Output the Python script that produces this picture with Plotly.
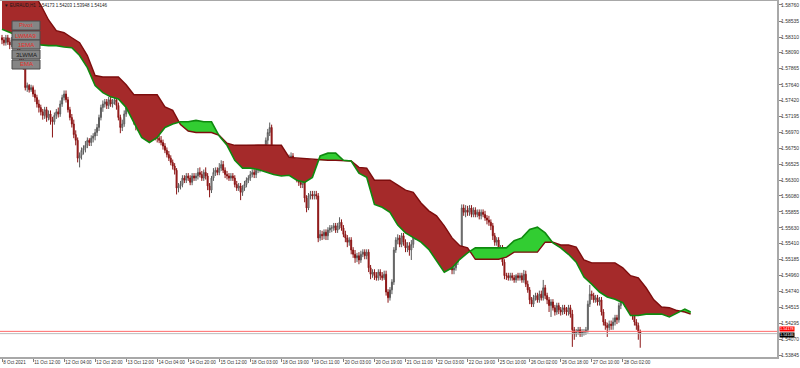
import plotly.graph_objects as go

# ---------------- data ----------------
symbol = "EURAUD,H1"
x_labels = ["8 Oct 2021", "11 Oct 12:00", "12 Oct 04:00", "12 Oct 20:00", "13 Oct 12:00",
            "14 Oct 04:00", "14 Oct 20:00", "15 Oct 12:00", "18 Oct 03:00", "18 Oct 19:00",
            "19 Oct 11:00", "20 Oct 03:00", "20 Oct 19:00", "21 Oct 11:00", "22 Oct 03:00",
            "22 Oct 19:00", "25 Oct 10:00", "26 Oct 02:00", "26 Oct 18:00", "27 Oct 10:00",
            "28 Oct 02:00"]
bars_per_label = 16
y_ticks = [1.58760, 1.58535, 1.58310, 1.58090, 1.57865, 1.57640, 1.57420, 1.57195,
           1.56970, 1.56750, 1.56525, 1.56300, 1.56080, 1.55855, 1.55630, 1.55410,
           1.55185, 1.54960, 1.54740, 1.54515, 1.54295, 1.54070, 1.53845]

first_open = 1.5830
close = [
    1.5827, 1.5823, 1.5830, 1.5824, 1.5820, 1.5827, 1.5821, 1.5833, 1.5816, 1.5802,
    1.5796, 1.5791, 1.5760, 1.5763, 1.5757, 1.5760, 1.5751, 1.5746, 1.5737, 1.5732,
    1.5726, 1.5721, 1.5729, 1.5718, 1.5723, 1.5715, 1.5712, 1.5721, 1.5726, 1.5723,
    1.5737, 1.5746, 1.5751, 1.5743, 1.5729, 1.5718, 1.5709, 1.5694, 1.5686, 1.5661,
    1.5665, 1.5672, 1.5675, 1.5679, 1.5686, 1.5683, 1.5689, 1.5692, 1.5697, 1.5704,
    1.5718, 1.5732, 1.5737, 1.5740, 1.5735, 1.5743, 1.5737, 1.5740, 1.5743, 1.5735,
    1.5718, 1.5704, 1.5709, 1.5723, 1.5732, 1.5737, 1.5743, 1.5732, 1.5712, 1.5707,
    1.5712, 1.5707, 1.5715, 1.5709, 1.5712, 1.5707, 1.5715, 1.5718, 1.5709, 1.5692,
    1.5689, 1.5686, 1.5683, 1.5678, 1.5672, 1.5666, 1.5661, 1.5655, 1.5650, 1.5644,
    1.5619, 1.5622, 1.5624, 1.5633, 1.5630, 1.5636, 1.5633, 1.5627, 1.5636, 1.5633,
    1.5636, 1.5641, 1.5638, 1.5633, 1.5641, 1.5636, 1.5622, 1.5616, 1.5633, 1.5641,
    1.5644, 1.5641, 1.5647, 1.5652, 1.5644, 1.5638, 1.5636, 1.5633, 1.5636, 1.5633,
    1.5624, 1.5619, 1.5622, 1.5613, 1.5619, 1.5624, 1.5630, 1.5633, 1.5638, 1.5641,
    1.5638, 1.5644, 1.5647, 1.5652, 1.5661, 1.5675, 1.5686, 1.5697, 1.5704, 1.5661,
    1.5652, 1.5664, 1.5658, 1.5661, 1.5655, 1.5664, 1.5658, 1.5652, 1.5661, 1.5664,
    1.5655, 1.5644, 1.5633, 1.5627, 1.5624, 1.5630, 1.5605, 1.5591, 1.5608, 1.5610,
    1.5608, 1.5610, 1.5608, 1.5549, 1.5554, 1.5552, 1.5557, 1.5552, 1.5560, 1.5563,
    1.5563, 1.5566, 1.5560, 1.5566, 1.5571, 1.5563, 1.5554, 1.5549, 1.5543, 1.5546,
    1.5532, 1.5526, 1.5521, 1.5524, 1.5518, 1.5526, 1.5529, 1.5524, 1.5529, 1.5507,
    1.5498, 1.5501, 1.5496, 1.5493, 1.5501, 1.5496, 1.5493, 1.5498, 1.5473, 1.5465,
    1.5476, 1.5487, 1.5532, 1.5546, 1.5549, 1.5540, 1.5552, 1.5543, 1.5535, 1.5538,
    1.5532, 1.5540, 1.5552, 1.5563, 1.5566, 1.5574, 1.5568, 1.5560, 1.5571, 1.5566,
    1.5568, 1.5563, 1.5552, 1.5546, 1.5540, 1.5549, 1.5538, 1.5532, 1.5529, 1.5521,
    1.5515, 1.5510, 1.5504, 1.5507, 1.5515, 1.5524, 1.5532, 1.5591, 1.5585, 1.5588,
    1.5585, 1.5591, 1.5582, 1.5588, 1.5582, 1.5585, 1.5580, 1.5585, 1.5582, 1.5577,
    1.5574, 1.5571, 1.5566, 1.5552, 1.5543, 1.5546, 1.5532, 1.5535, 1.5515, 1.5496,
    1.5496, 1.5493, 1.5496, 1.5493, 1.5490, 1.5496, 1.5493, 1.5496, 1.5490, 1.5498,
    1.5484, 1.5476, 1.5462, 1.5456, 1.5465, 1.5468, 1.5462, 1.5470, 1.5465, 1.5479,
    1.5468, 1.5462, 1.5454, 1.5459, 1.5451, 1.5445, 1.5454, 1.5448, 1.5445, 1.5451,
    1.5448, 1.5445, 1.5451, 1.5442, 1.5420, 1.5414, 1.5417, 1.5420, 1.5414, 1.5417,
    1.5417, 1.5420, 1.5456, 1.5470, 1.5468, 1.5462, 1.5465, 1.5459, 1.5462, 1.5445,
    1.5431, 1.5426, 1.5423, 1.5428, 1.5426, 1.5431, 1.5437, 1.5434, 1.5454, 1.5462,
    1.5468, 1.5456, 1.5462, 1.5448, 1.5454, 1.5440, 1.5431, 1.5426, 1.54173, 1.54146,
]
high = [
    1.5834, 1.5831, 1.5834, 1.5834, 1.5830, 1.5831, 1.5830, 1.5838, 1.5837, 1.5820,
    1.5807, 1.5802, 1.5799, 1.5767, 1.5765, 1.5764, 1.5763, 1.5757, 1.5750, 1.5743,
    1.5736, 1.5730, 1.5733, 1.5733, 1.5728, 1.5728, 1.5719, 1.5725, 1.5730, 1.5732,
    1.5742, 1.5750, 1.5756, 1.5756, 1.5747, 1.5733, 1.5723, 1.5715, 1.5700, 1.5690,
    1.5669, 1.5676, 1.5679, 1.5685, 1.5690, 1.5689, 1.5693, 1.5696, 1.5702, 1.5709,
    1.5722, 1.5736, 1.5742, 1.5744, 1.5744, 1.5747, 1.5747, 1.5744, 1.5747, 1.5747,
    1.5739, 1.5722, 1.5715, 1.5728, 1.5736, 1.5742, 1.5747, 1.5747, 1.5736, 1.5718,
    1.5716, 1.5716, 1.5719, 1.5719, 1.5716, 1.5716, 1.5719, 1.5722, 1.5722, 1.5714,
    1.5696, 1.5693, 1.5692, 1.5687, 1.5682, 1.5676, 1.5671, 1.5665, 1.5659, 1.5654,
    1.5647, 1.5626, 1.5629, 1.5637, 1.5637, 1.5640, 1.5640, 1.5637, 1.5640, 1.5640,
    1.5640, 1.5647, 1.5648, 1.5643, 1.5645, 1.5648, 1.5640, 1.5626, 1.5636, 1.5647,
    1.5648, 1.5648, 1.5654, 1.5658, 1.5657, 1.5648, 1.5643, 1.5640, 1.5640, 1.5640,
    1.5637, 1.5629, 1.5626, 1.5626, 1.5623, 1.5629, 1.5634, 1.5637, 1.5643, 1.5645,
    1.5645, 1.5648, 1.5651, 1.5658, 1.5665, 1.5679, 1.5690, 1.5702, 1.5711, 1.5708,
    1.5665, 1.5668, 1.5668, 1.5665, 1.5665, 1.5669, 1.5668, 1.5662, 1.5666, 1.5669,
    1.5668, 1.5659, 1.5648, 1.5637, 1.5631, 1.5634, 1.5634, 1.5609, 1.5612, 1.5615,
    1.5615, 1.5615, 1.5615, 1.5612, 1.5560, 1.5559, 1.5561, 1.5561, 1.5564, 1.5567,
    1.5567, 1.5570, 1.5570, 1.5570, 1.5578, 1.5575, 1.5567, 1.5559, 1.5553, 1.5550,
    1.5550, 1.5536, 1.5532, 1.5528, 1.5529, 1.5531, 1.5533, 1.5533, 1.5533, 1.5533,
    1.5511, 1.5505, 1.5505, 1.5501, 1.5505, 1.5505, 1.5501, 1.5503, 1.5503, 1.5477,
    1.5480, 1.5491, 1.5536, 1.5550, 1.5554, 1.5553, 1.5556, 1.5556, 1.5547, 1.5543,
    1.5543, 1.5546, 1.5556, 1.5567, 1.5571, 1.5585, 1.5578, 1.5573, 1.5575, 1.5577,
    1.5573, 1.5574, 1.5567, 1.5557, 1.5552, 1.5554, 1.5554, 1.5543, 1.5538, 1.5535,
    1.5525, 1.5521, 1.5515, 1.5512, 1.5519, 1.5528, 1.5536, 1.5596, 1.5596, 1.5595,
    1.5594, 1.5595, 1.5595, 1.5592, 1.5592, 1.5589, 1.5589, 1.5589, 1.5589, 1.5587,
    1.5581, 1.5580, 1.5575, 1.5570, 1.5556, 1.5550, 1.5550, 1.5539, 1.5539, 1.5519,
    1.5500, 1.5500, 1.5500, 1.5500, 1.5497, 1.5498, 1.5500, 1.5500, 1.5500, 1.5504,
    1.5503, 1.5489, 1.5480, 1.5466, 1.5469, 1.5472, 1.5472, 1.5475, 1.5475, 1.5490,
    1.5483, 1.5472, 1.5466, 1.5463, 1.5463, 1.5455, 1.5458, 1.5458, 1.5452, 1.5455,
    1.5455, 1.5452, 1.5455, 1.5455, 1.5448, 1.5424, 1.5421, 1.5424, 1.5424, 1.5421,
    1.5421, 1.5424, 1.5461, 1.5483, 1.5475, 1.5472, 1.5469, 1.5469, 1.5466, 1.5466,
    1.5449, 1.5435, 1.5430, 1.5433, 1.5433, 1.5437, 1.5441, 1.5441, 1.5458, 1.5490,
    1.5472, 1.5472, 1.5466, 1.5466, 1.5458, 1.5458, 1.5444, 1.5435, 1.5430, 1.54203,
]
low = [
    1.5821, 1.5819, 1.5819, 1.5820, 1.5814, 1.5817, 1.5816, 1.5817, 1.5810, 1.5795,
    1.5792, 1.5785, 1.5756, 1.5754, 1.5753, 1.5754, 1.5747, 1.5740, 1.5732, 1.5725,
    1.5721, 1.5715, 1.5716, 1.5712, 1.5714, 1.5708, 1.5690, 1.5708, 1.5716, 1.5718,
    1.5719, 1.5733, 1.5742, 1.5739, 1.5725, 1.5714, 1.5704, 1.5689, 1.5679, 1.5655,
    1.5648, 1.5659, 1.5666, 1.5669, 1.5675, 1.5678, 1.5678, 1.5683, 1.5686, 1.5692,
    1.5699, 1.5714, 1.5726, 1.5732, 1.5730, 1.5730, 1.5733, 1.5732, 1.5736, 1.5729,
    1.5714, 1.5696, 1.5699, 1.5705, 1.5719, 1.5728, 1.5732, 1.5728, 1.5708, 1.5700,
    1.5700, 1.5702, 1.5702, 1.5705, 1.5705, 1.5702, 1.5704, 1.5711, 1.5705, 1.5686,
    1.5683, 1.5682, 1.5679, 1.5673, 1.5668, 1.5662, 1.5657, 1.5651, 1.5645, 1.5638,
    1.5610, 1.5613, 1.5617, 1.5620, 1.5626, 1.5626, 1.5629, 1.5623, 1.5623, 1.5629,
    1.5629, 1.5631, 1.5634, 1.5629, 1.5629, 1.5631, 1.5616, 1.5606, 1.5612, 1.5629,
    1.5636, 1.5637, 1.5637, 1.5643, 1.5640, 1.5633, 1.5631, 1.5629, 1.5629, 1.5629,
    1.5620, 1.5615, 1.5615, 1.5602, 1.5608, 1.5615, 1.5620, 1.5626, 1.5629, 1.5634,
    1.5633, 1.5633, 1.5640, 1.5641, 1.5647, 1.5655, 1.5669, 1.5680, 1.5692, 1.5654,
    1.5647, 1.5647, 1.5652, 1.5654, 1.5650, 1.5651, 1.5652, 1.5647, 1.5647, 1.5655,
    1.5650, 1.5638, 1.5627, 1.5622, 1.5619, 1.5619, 1.5599, 1.5585, 1.5588, 1.5603,
    1.5603, 1.5603, 1.5603, 1.5543, 1.5545, 1.5546, 1.5547, 1.5546, 1.5546, 1.5556,
    1.5557, 1.5559, 1.5556, 1.5556, 1.5561, 1.5559, 1.5550, 1.5543, 1.5536, 1.5538,
    1.5526, 1.5521, 1.5514, 1.5515, 1.5512, 1.5514, 1.5522, 1.5519, 1.5519, 1.5501,
    1.5491, 1.5493, 1.5490, 1.5489, 1.5489, 1.5490, 1.5489, 1.5490, 1.5468, 1.5458,
    1.5461, 1.5470, 1.5483, 1.5528, 1.5540, 1.5536, 1.5536, 1.5538, 1.5529, 1.5529,
    1.5524, 1.5518, 1.5535, 1.5546, 1.5557, 1.5560, 1.5563, 1.5554, 1.5556, 1.5560,
    1.5560, 1.5559, 1.5546, 1.5540, 1.5535, 1.5535, 1.5532, 1.5526, 1.5522, 1.5514,
    1.5510, 1.5504, 1.5498, 1.5498, 1.5503, 1.5511, 1.5518, 1.5526, 1.5580, 1.5578,
    1.5580, 1.5580, 1.5578, 1.5578, 1.5578, 1.5578, 1.5575, 1.5575, 1.5578, 1.5573,
    1.5568, 1.5566, 1.5560, 1.5546, 1.5538, 1.5538, 1.5526, 1.5528, 1.5510, 1.5491,
    1.5490, 1.5489, 1.5489, 1.5489, 1.5486, 1.5486, 1.5489, 1.5489, 1.5486, 1.5486,
    1.5480, 1.5472, 1.5456, 1.5452, 1.5452, 1.5461, 1.5458, 1.5458, 1.5461, 1.5461,
    1.5463, 1.5456, 1.5445, 1.5438, 1.5447, 1.5440, 1.5441, 1.5442, 1.5440, 1.5441,
    1.5442, 1.5440, 1.5440, 1.5437, 1.5396, 1.5406, 1.5410, 1.5413, 1.5410, 1.5410,
    1.5412, 1.5413, 1.5416, 1.5452, 1.5462, 1.5458, 1.5458, 1.5454, 1.5454, 1.5440,
    1.5426, 1.5420, 1.5410, 1.5419, 1.5420, 1.5420, 1.5426, 1.5428, 1.5430, 1.5449,
    1.5458, 1.5452, 1.5449, 1.5444, 1.5444, 1.5434, 1.5426, 1.5420, 1.5406, 1.53948,
]

# Ichimoku cloud (Senkou span A / B), read every 4 bars, shifted 26 bars ahead
cloud_bar = list(range(0, 353, 4)) + [355]
span_a = [
    1.5842, 1.5838, 1.5833, 1.5827, 1.5823, 1.5820, 1.5819, 1.5819, 1.5817, 1.5816,
    1.5805, 1.5788, 1.5763, 1.5753, 1.5747, 1.5744, 1.5732, 1.5712, 1.5690, 1.5683,
    1.5690, 1.5704, 1.5709, 1.5712, 1.5712, 1.5714, 1.5712, 1.5712, 1.5692, 1.5679,
    1.5658, 1.5647, 1.5647, 1.5645, 1.5641, 1.5638, 1.5636, 1.5637, 1.5630, 1.5627,
    1.5634, 1.5664, 1.5668, 1.5668, 1.5658, 1.5657, 1.5640, 1.5634, 1.5596, 1.5592,
    1.5585, 1.5567, 1.5556, 1.5550, 1.5543, 1.5533, 1.5517, 1.5501, 1.5507, 1.5519,
    1.5528, 1.5535, 1.5535, 1.5535, 1.5536, 1.5535, 1.5545, 1.5549, 1.5561, 1.5564,
    1.5556, 1.5542, 1.5535, 1.5526, 1.5515, 1.5494, 1.5484, 1.5473, 1.5466, 1.5463,
    1.5458, 1.5440, 1.5440, 1.5442, 1.5442, 1.5442, 1.5438, 1.5444, 1.5449, 1.5445,
]
span_b = [
    1.5894, 1.5894, 1.5894, 1.5894, 1.5894, 1.5876, 1.5855, 1.5840, 1.5837, 1.5830,
    1.5823, 1.5805, 1.5777, 1.5775, 1.5775, 1.5775, 1.5764, 1.5750, 1.5750, 1.5750,
    1.5750, 1.5733, 1.5728, 1.5708, 1.5699, 1.5697, 1.5697, 1.5697, 1.5693, 1.5682,
    1.5679, 1.5679, 1.5680, 1.5680, 1.5680, 1.5680, 1.5679, 1.5662, 1.5661, 1.5661,
    1.5659, 1.5658, 1.5658, 1.5658, 1.5658, 1.5657, 1.5648, 1.5647, 1.5630, 1.5630,
    1.5630, 1.5623, 1.5616, 1.5613, 1.5598, 1.5587, 1.5580, 1.5566, 1.5549, 1.5538,
    1.5535, 1.5519, 1.5519, 1.5519, 1.5519, 1.5522, 1.5529, 1.5529, 1.5529, 1.5529,
    1.5543, 1.5543, 1.5539, 1.5539, 1.5536, 1.5518, 1.5514, 1.5514, 1.5514, 1.5514,
    1.5507, 1.5496, 1.5493, 1.5479, 1.5462, 1.5452, 1.5451, 1.5447, 1.5445, 1.5442,
]

ask = 1.54178
buttons = ["Pivot", "LWMA9", "1EMA", "3LWMA", "EMA"]
button_colors = ["#e8302a", "#e8302a", "#e8302a", "#1a1a1a", "#e8302a"]

# ---------------- layout geometry ----------------
W, H = 800, 368
ML, MR, MT, MB = 0, 23, 1, 11
PW, PH = W - ML - MR, H - MT - MB
X_RANGE = [-1.03, 399.5]
Y_RANGE = [1.53818, 1.58816]


def px_x(px):
    return (px - ML) / PW


def px_y(py):
    return (H - MB - py) / PH


FONT = "Liberation Sans, Arial, sans-serif"
RED_FILL = "#a52a2a"
GREEN_FILL = "#32cd32"
SPAN_A_LINE = "#0f8a0f"
SPAN_B_LINE = "#7d0d0d"

bars = list(range(len(close)))
opens = [first_open] + close[:-1]

fig = go.Figure()

# ---- cloud fill: split into red / green sections at crossings ----
sections = []
cx, ca, cb = [cloud_bar[0]], [span_a[0]], [span_b[0]]
sign = span_a[0] >= span_b[0]
for i in range(1, len(cloud_bar)):
    s = span_a[i] >= span_b[i]
    if s != sign:
        d0 = span_a[i - 1] - span_b[i - 1]
        d1 = span_a[i] - span_b[i]
        t = d0 / (d0 - d1) if d0 != d1 else 0.0
        xc = cloud_bar[i - 1] + t * (cloud_bar[i] - cloud_bar[i - 1])
        yc = span_a[i - 1] + t * (span_a[i] - span_a[i - 1])
        cx.append(xc); ca.append(yc); cb.append(yc)
        sections.append((sign, cx, ca, cb))
        cx, ca, cb = [xc], [yc], [yc]
        sign = s
    cx.append(cloud_bar[i]); ca.append(span_a[i]); cb.append(span_b[i])
sections.append((sign, cx, ca, cb))

for bull, sx, sa, sb in sections:
    fig.add_trace(go.Scatter(
        x=sx + sx[::-1], y=sa + sb[::-1], mode="lines", fill="toself",
        fillcolor=GREEN_FILL if bull else RED_FILL, line=dict(width=0),
        hoverinfo="skip", showlegend=False))

fig.add_trace(go.Scatter(x=cloud_bar, y=span_b, mode="lines",
                         line=dict(color=SPAN_B_LINE, width=1.4),
                         hoverinfo="skip", showlegend=False))
fig.add_trace(go.Scatter(x=cloud_bar, y=span_a, mode="lines",
                         line=dict(color=SPAN_A_LINE, width=1.6),
                         hoverinfo="skip", showlegend=False))

# ---- candles ----
fig.add_trace(go.Candlestick(
    x=bars, open=opens, high=high, low=low, close=close,
    increasing=dict(line=dict(color="#5a5a5a", width=1), fillcolor="#c8c8c8"),
    decreasing=dict(line=dict(color="#8b1414", width=1), fillcolor="#a81c1c"),
    whiskerwidth=0, hoverinfo="skip", showlegend=False))

shapes = []
annotations = []

# bid / ask lines
shapes.append(dict(type="line", xref="paper", yref="y", x0=0, x1=1, y0=ask, y1=ask,
                   line=dict(color="#ff6a6a", width=1), layer="above"))
shapes.append(dict(type="line", xref="paper", yref="y", x0=0, x1=1, y0=close[-1], y1=close[-1],
                   line=dict(color="#bcbcbc", width=1), layer="above"))

# price tags on the right axis (red ask tag sits just above the black bid tag)
annotations.append(dict(xref="paper", yref="y", x=1, y=close[-1], xshift=2, yshift=2,
                        xanchor="left", yanchor="bottom", text=f"{ask:.5f}", showarrow=False,
                        font=dict(family=FONT, size=3.8, color="#ffffff"),
                        bgcolor="#ff0000", borderpad=0))
annotations.append(dict(xref="paper", yref="y", x=1, y=close[-1], xshift=2, yshift=2,
                        xanchor="left", yanchor="top", text=f"{close[-1]:.5f}", showarrow=False,
                        font=dict(family=FONT, size=3.8, color="#ffffff"),
                        bgcolor="#000000", borderpad=0))

# header line
annotations.append(dict(
    xref="paper", yref="paper", x=px_x(2), y=px_y(5), xanchor="left", yanchor="middle",
    text=(f"\u25BC {symbol}  {opens[-1]:.5f} {high[-1]:.5f} {low[-1]:.5f} {close[-1]:.5f}"),
    showarrow=False, font=dict(family=FONT, size=4.5, color="#1a1a1a")))

# indicator buttons
btn_top = [21, 31, 40, 50, 60]
for label, col, top in zip(buttons, button_colors, btn_top):
    shapes.append(dict(type="rect", xref="paper", yref="paper",
                       x0=px_x(12), x1=px_x(40), y0=px_y(top + 9), y1=px_y(top),
                       fillcolor="#858585", line=dict(color="#4a4a4a", width=1),
                       layer="above"))
    annotations.append(dict(xref="paper", yref="paper", x=px_x(26), y=px_y(top + 4.5),
                            xanchor="center", yanchor="middle", text=label, showarrow=False,
                            font=dict(family=FONT, size=6, color=col)))

fig.update_layout(
    width=W, height=H,
    margin=dict(l=ML, r=MR, t=MT, b=MB, pad=0, autoexpand=False),
    paper_bgcolor="#ffffff", plot_bgcolor="#ffffff",
    showlegend=False,
    shapes=shapes, annotations=annotations,
    xaxis=dict(range=X_RANGE, rangeslider=dict(visible=False), showgrid=False,
               zeroline=False, showline=True, mirror=True, linecolor="#a8a8a8",
               linewidth=1.5, ticks="outside", ticklen=3, tickcolor="#808080",
               tickvals=[i * bars_per_label for i in range(len(x_labels))],
               ticktext=x_labels, ticklabelposition="outside right", tickangle=0,
               automargin=False, ticklabelstandoff=0,
               tickfont=dict(family=FONT, size=4.6, color="#333333"), fixedrange=True),
    yaxis=dict(range=Y_RANGE, side="right", showgrid=False, zeroline=False,
               showline=True, linecolor="#a8a8a8", linewidth=2, automargin=False,
               ticks="outside", ticklen=3, tickcolor="#808080", ticklabelstandoff=-2,
               tickvals=y_ticks, ticktext=[f"{v:.5f}" for v in y_ticks],
               tickfont=dict(family=FONT, size=5, color="#333333"), fixedrange=True),
)

fig.write_html("out.html")
